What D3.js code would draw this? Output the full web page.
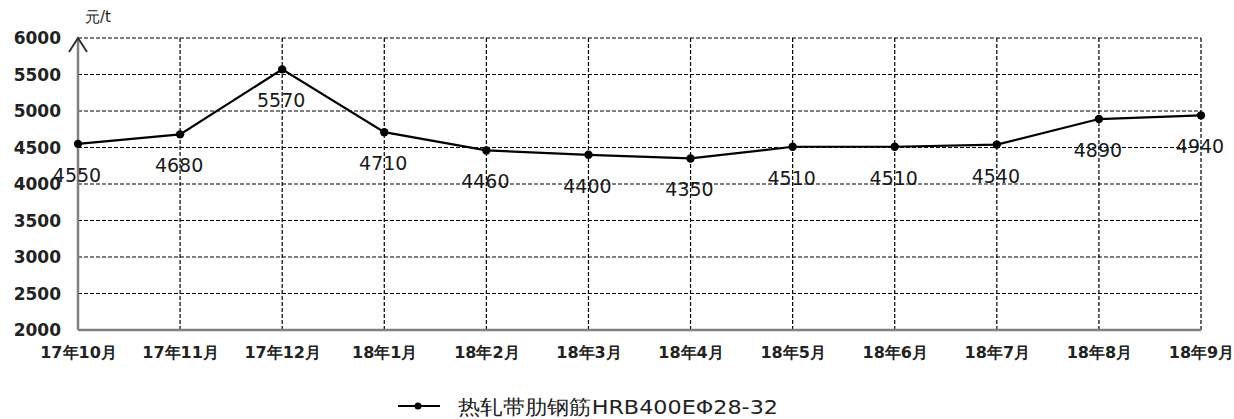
<!DOCTYPE html>
<html><head><meta charset="utf-8">
<script src="https://cdn.jsdelivr.net/npm/d3@7"></script>
<style>body{margin:0;background:#fff}svg{display:block}text{font-family:"DejaVu Sans",sans-serif}</style>
</head><body><svg id="c" width="1234" height="419"></svg>
<script>
const categories=["17年10月","17年11月","17年12月","18年1月","18年2月","18年3月","18年4月","18年5月","18年6月","18年7月","18年8月","18年9月"];
const values=[4550,4680,5570,4710,4460,4400,4350,4510,4510,4540,4890,4940];
const yTicks=[2000,2500,3000,3500,4000,4500,5000,5500,6000];
const seriesName="热轧带肋钢筋HRB400EΦ28-32";
const unit="元/t";

const svg=d3.select("#c");
const L=78,R=1201,T=38,B=330;
const x=d3.scalePoint().domain(categories).range([L,R]).padding(0);
const y=d3.scaleLinear().domain([2000,6000]).range([B,T]);

// horizontal grid
svg.append("g").selectAll("line").data(yTicks.filter(d=>d>2000)).join("line")
 .attr("x1",L).attr("x2",R).attr("y1",d=>y(d)).attr("y2",d=>y(d))
 .attr("stroke","#000").attr("stroke-width",1.2).attr("stroke-dasharray","4,2");
// vertical grid
svg.append("g").selectAll("line").data(categories.slice(1)).join("line")
 .attr("x1",d=>x(d)).attr("x2",d=>x(d)).attr("y1",T).attr("y2",B)
 .attr("stroke","#000").attr("stroke-width",1.2).attr("stroke-dasharray","4,2");

// y axis labels
const ya=svg.append("g").attr("transform",`translate(${L},0)`).call(d3.axisLeft(y).tickValues(yTicks).tickSize(0).tickPadding(17).tickFormat(d3.format("d")));
ya.select(".domain").remove();
ya.selectAll("text").attr("font-size",17).attr("font-weight","bold").attr("fill","#222").attr("dy","0.35em");

// x axis labels
const xa=svg.append("g").attr("transform",`translate(0,${B})`).call(d3.axisBottom(x).tickSize(0).tickPadding(17));
xa.select(".domain").remove();
xa.selectAll("text").attr("font-size",16).attr("font-weight","bold").attr("fill","#222").attr("dy","0.71em");

// axes lines
svg.append("line").attr("x1",L).attr("x2",R).attr("y1",B).attr("y2",B).attr("stroke","#808080").attr("stroke-width",2.5);
svg.append("line").attr("x1",L).attr("x2",L).attr("y1",B).attr("y2",T).attr("stroke","#808080").attr("stroke-width",2.5);
svg.append("path").attr("d",`M${L-9},${T+14}L${L},${T}L${L+9},${T+14}`).attr("fill","none").attr("stroke","#333").attr("stroke-width",2);

svg.append("text").attr("x",85).attr("y",22).attr("font-size",15).attr("fill","#222").text(unit);

// line
svg.append("path").datum(values).attr("fill","none").attr("stroke","#000").attr("stroke-width",2.2)
 .attr("d",d3.line().x((d,i)=>x(categories[i])).y(d=>y(d)));
svg.append("g").selectAll("circle").data(values).join("circle")
 .attr("cx",(d,i)=>x(categories[i])).attr("cy",d=>y(d)).attr("r",4.2).attr("fill","#000");
svg.append("g").selectAll("text").data(values).join("text")
 .attr("x",(d,i)=>x(categories[i])-1).attr("y",d=>y(d)+38)
 .attr("text-anchor","middle").attr("font-size",19).attr("fill","#1a1a1a")
 .text(d=>d);

// legend
svg.append("line").attr("x1",398).attr("x2",440).attr("y1",406).attr("y2",406).attr("stroke","#000").attr("stroke-width",2);
svg.append("circle").attr("cx",418).attr("cy",406).attr("r",3.5).attr("fill","#000");
svg.append("text").attr("x",458).attr("y",414).attr("font-size",20).attr("fill","#222")
 .attr("textLength",320).attr("lengthAdjust","spacingAndGlyphs").text(seriesName);
</script></body></html>
